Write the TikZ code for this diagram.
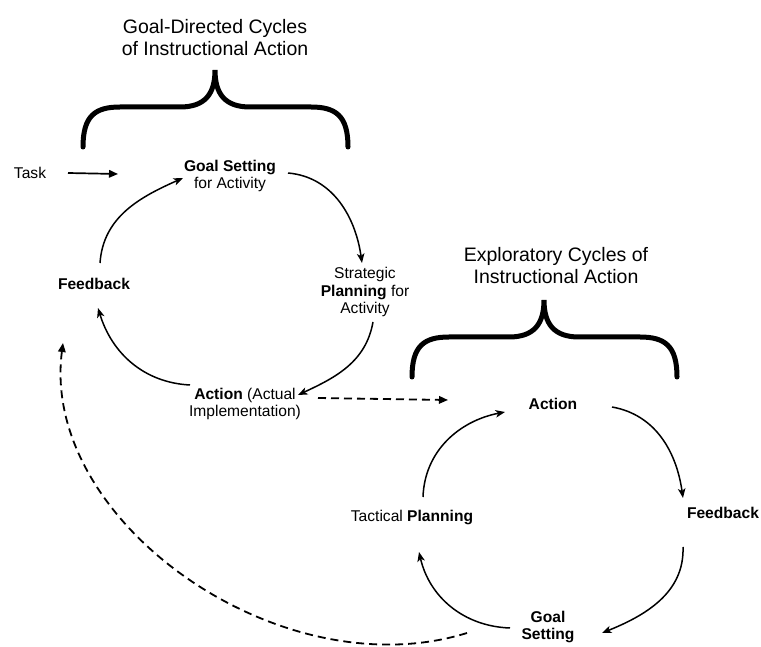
\documentclass[tikz,border=0pt]{standalone}
\usepackage{fontspec}
\setmainfont{Liberation Sans}
\usetikzlibrary{arrows.meta}
\begin{document}
\begin{tikzpicture}[x=1pt,y=1pt,
  txt/.style={inner sep=0pt,align=center,font=\fontsize{15.6}{17.5}\selectfont},
  ttl/.style={inner sep=0pt,align=center,font=\fontsize{19.5}{22}\selectfont},
  cyc/.style={line width=1.5pt,-{Stealth[length=9.5pt,width=7.5pt,inset=2.5pt]}},
  dsh/.style={line width=1.8pt,dash pattern=on 8pt off 5pt,-{Triangle[length=9pt,width=7.5pt]}},
  solid arrow/.style={line width=1.7pt,-{Triangle[length=9pt,width=7.5pt]}},
  bracestyle/.style={line width=5pt,line cap=round}]
\useasboundingbox (0,0) rectangle (761,646);
\clip (0,0) rectangle (761,646);
\fill[white] (0,0) rectangle (761,646);

% titles
\node[ttl] (t1) at (215,608) {Goal-Directed Cycles\\of Instructional Action};
\node[ttl] (t2) at (556,380) {Exploratory Cycles of\\Instructional Action};

% braces
\foreach \dx/\dy in {0/0,329/-230}{
\begin{scope}[shift={(\dx,\dy)}]
\draw[bracestyle] (83,499) .. controls (83,530) and (95,539) .. (120,539) -- (180,539)
  .. controls (205,539) and (215,552) .. (215,576)
  .. controls (215,552) and (225,539) .. (250,539) -- (311,539)
  .. controls (336,539) and (348,530) .. (348,499);
\end{scope}}

% cycle 1 nodes
\node[txt] (task) at (30,473) {Task};
\node[txt] (gs) at (230,470) {\textbf{Goal Setting}\\for Activity};
\node[txt] (sp) at (365,354) {Strategic\\\textbf{Planning} for\\Activity};
\node[txt] (act1) at (245,242) {\textbf{Action} (Actual\\Implementation)};
\node[txt] (fb1) at (94,362) {\textbf{Feedback}};

% cycle 2 nodes
\node[txt] (act2) at (553,242) {\textbf{Action}};
\node[txt] (fb2) at (723,133) {\textbf{Feedback}};
\node[txt] (gs2) at (548,19) {\textbf{Goal}\\\textbf{Setting}};
\node[txt] (tp) at (412,128) {Tactical \textbf{Planning}};

% free ends
\coordinate (taskend) at (118,472);
\coordinate (dend) at (448,246);
\coordinate (bigend) at (63,303);

% cycle 1 arrows
\draw[cyc] ([shift={(58,3)}]gs.center) to[out=-5,in=98] ([shift={(-3,29)}]sp.center);
\draw[cyc] ([shift={(8,-30)}]sp.center) to[out=-100,in=25] ([shift={(53,9)}]act1.center);
\draw[cyc] ([shift={(-55,19)}]act1.center) to[out=177,in=-73] ([shift={(4,-24)}]fb1.center);
\draw[cyc] ([shift={(6,21)}]fb1.center) to[out=86,in=204] ([shift={(-47,-2)}]gs.center);

\draw[solid arrow] ([shift={(38,0)}]task.center) -- (taskend);
\draw[dsh] ([shift={(73,6)}]act1.center) -- (dend);

% cycle 2 arrows
\draw[cyc] ([shift={(59,-3)}]act2.center) to[out=-10,in=98] ([shift={(-40,15)}]fb2.center);
\draw[cyc] ([shift={(-40,-34)}]fb2.center) to[out=-88,in=22] ([shift={(54,-6)}]gs2.center);
\draw[cyc] ([shift={(-38,-1)}]gs2.center) to[out=178,in=-77] ([shift={(7,-34)}]tp.center);
\draw[cyc] ([shift={(11,21)}]tp.center) to[out=88,in=191] ([shift={(-48,-8)}]act2.center);

% big dashed return
\draw[dsh] ([shift={(-81,-6)}]gs2.center) .. controls (280,-45) and (40,125) .. (bigend);
\end{tikzpicture}
\end{document}
